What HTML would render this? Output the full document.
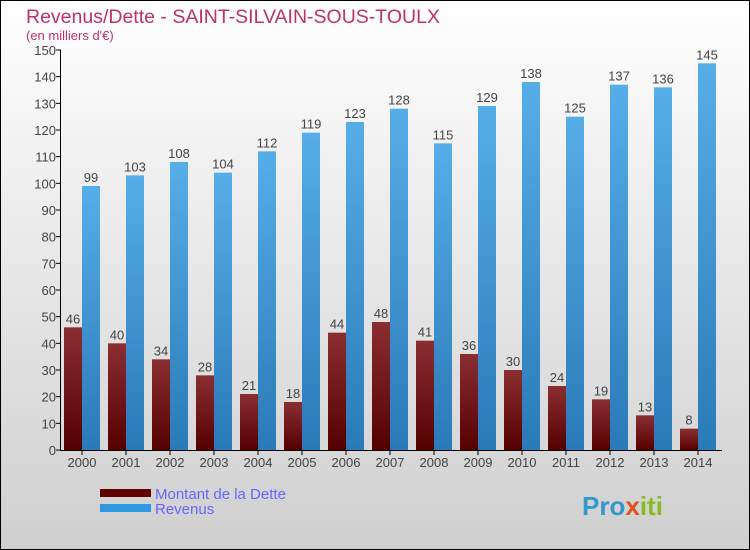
<!DOCTYPE html>
<html><head><meta charset="utf-8"><style>
body{margin:0}
#c{width:750px;height:550px;position:relative;box-sizing:border-box;border:1px solid #000;background:linear-gradient(#ffffff,#cfcfcf);font-family:"Liberation Sans",sans-serif;overflow:hidden}
</style></head><body>
<div id="c">
<svg id="s" width="750" height="550" style="position:absolute;left:-1px;top:-1px">
<defs>
<linearGradient id="gd" x1="0" y1="0" x2="0" y2="1"><stop offset="0" stop-color="#8a2e32"/><stop offset="1" stop-color="#550000"/></linearGradient>
<linearGradient id="gr" x1="0" y1="0" x2="0" y2="1"><stop offset="0" stop-color="#56aee8"/><stop offset="1" stop-color="#2a7ab8"/></linearGradient>
</defs>
<text x="26" y="23" font-size="19.5" fill="#c0306a">Revenus/Dette - SAINT-SILVAIN-SOUS-TOULX</text>
<text x="26" y="40" font-size="13" fill="#c0306a">(en milliers d'€)</text>
<g id="plot"></g>
<rect x="100" y="489" width="51" height="8" fill="#600000"/>
<rect x="100" y="504" width="51" height="8" fill="#2e98e0"/>
<text x="155" y="499" font-size="15" fill="#6666ff">Montant de la Dette</text>
<text x="155" y="514" font-size="15" fill="#6666ff">Revenus</text>
<text x="582" y="515" font-size="26" font-weight="bold" fill="#3399cc">Pro<tspan fill="#e05020">x</tspan><tspan fill="#88bb22">iti</tspan></text>
</svg>
</div>
<script>
const years=["2000","2001","2002","2003","2004","2005","2006","2007","2008","2009","2010","2011","2012","2013","2014"];
const dette=[46,40,34,28,21,18,44,48,41,36,30,24,19,13,8];
const revenus=[99,103,108,104,112,119,123,128,115,129,138,125,137,136,145];
const yTicks=[0,10,20,30,40,50,60,70,80,90,100,110,120,130,140,150];
const NS="http://www.w3.org/2000/svg";
const g=document.getElementById('plot');
const y0=450,ppu=400/150,gx0=64,gw=44,bw=18;
const Y=v=>y0-v*ppu;
const X=i=>gx0+i*gw;
function mk(t,a){const e=document.createElementNS(NS,t);for(const k in a)e.setAttribute(k,a[k]);g.appendChild(e);return e;}
yTicks.forEach(t=>{
 const l=mk('line',{x1:56,x2:61,y1:Y(t),y2:Y(t),stroke:'#000'});
 
 
 const tx=mk('text',{x:56,y:Y(t)+5,'font-size':13,'text-anchor':'end',fill:'#444'});
 tx.textContent=t;
 
 
});
years.forEach((yr,i)=>{
 const x=X(i);
 const d=mk('rect',{x:x,y:Y(dette[i]),width:bw,height:dette[i]*ppu,fill:'url(#gd)'});
 
 
 const r=mk('rect',{x:x+bw,y:Y(revenus[i]),width:bw,height:revenus[i]*ppu,fill:'url(#gr)'});
 
 
 const t1=mk('text',{x:x+bw/2,y:Y(dette[i])-4,'font-size':13,'text-anchor':'middle',fill:'#444'});
 t1.textContent=dette[i];
 
 
 const t2=mk('text',{x:x+bw*1.5,y:Y(revenus[i])-4,'font-size':13,'text-anchor':'middle',fill:'#444'});
 t2.textContent=revenus[i];
 
 
 const tk=mk('line',{x1:x+bw,x2:x+bw,y1:450,y2:455,stroke:'#000'});
 
 
 const xl=mk('text',{x:x+bw,y:467,'font-size':13,'text-anchor':'middle',fill:'#444'});
 xl.textContent=yr;
 
 
});
const ya=mk('line',{x1:60.5,x2:60.5,y1:50,y2:451,stroke:'#000'});


const xa=mk('line',{x1:60,x2:722,y1:450.5,y2:450.5,stroke:'#000'});


</script>
</body></html>
